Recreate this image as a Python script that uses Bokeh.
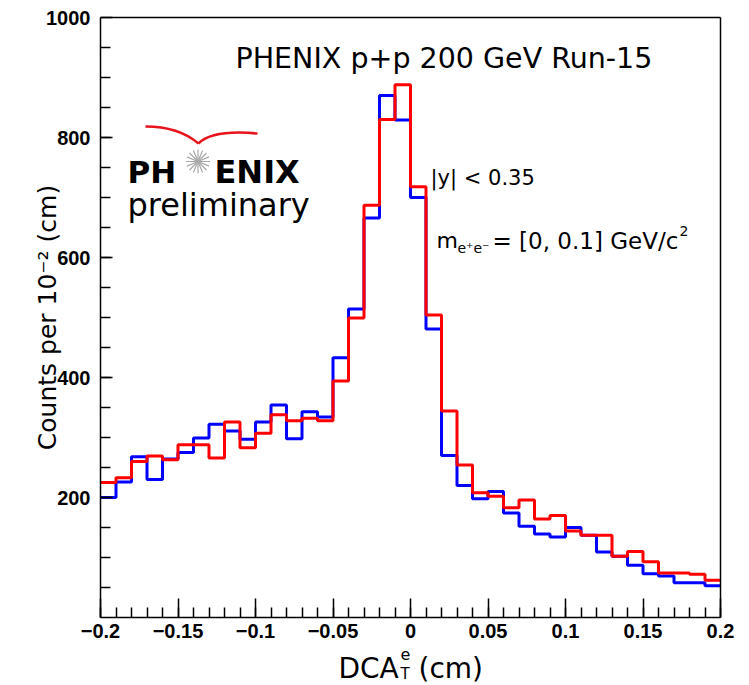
import numpy as np
from bokeh.plotting import figure
from bokeh.models import Range1d, FixedTicker, Label, LinearAxis
from bokeh.embed import file_html
from bokeh.resources import INLINE

# ---------------- data ----------------
bin_edges = [round(-0.2 + 0.01 * i, 2) for i in range(41)]

blue_counts = [200, 226, 268, 230, 264, 275, 299, 322, 311, 297,
               326, 354, 298, 343, 334, 433, 514, 666, 870, 829,
               700, 481, 270, 220, 198, 210, 174, 152, 139, 134,
               150, 137, 109, 102, 87, 73, 69, 58, 58, 53]

red_counts = [225, 233, 260, 269, 263, 288, 288, 266, 326, 283,
              307, 338, 328, 332, 328, 394, 499, 687, 830, 888,
              718, 504, 344, 254, 208, 202, 183, 196, 164, 170,
              144, 137, 137, 102, 110, 93, 74, 74, 72, 62]

x_tick_values = [-0.2, -0.15, -0.1, -0.05, 0.0, 0.05, 0.1, 0.15, 0.2]
x_tick_labels = ["\u22120.2", "\u22120.15", "\u22120.1", "\u22120.05", "0",
                 "0.05", "0.1", "0.15", "0.2"]
y_tick_values = [200, 400, 600, 800, 1000]
y_minor_values = [50 * i for i in range(1, 20)]
X_LO, X_HI = -0.2, 0.2
Y_LO, Y_HI = 0, 1000

# ---------------- layout ----------------
# the frame covers the whole canvas; the axes are drawn at fixed locations
W, H = 749, 685
PL, PR, PT, PB = 100, 720, 17, 617          # pixel box of the plotting area
xs = (X_HI - X_LO) / (PR - PL)               # data per pixel
ys = (Y_HI - Y_LO) / (PB - PT)
x_range = Range1d(X_LO - PL * xs, X_HI + (W - PR) * xs)
y_range = Range1d(Y_LO - (H - PB) * ys, Y_HI + PT * ys)

def dx(px):
    return x_range.start + px * xs

def dy(py):
    return y_range.end - py * ys

p = figure(width=W, height=H, x_range=x_range, y_range=y_range,
           output_backend="svg", toolbar_location=None, title=None,
           min_border=0, min_border_left=0, min_border_right=0,
           min_border_top=0, min_border_bottom=0)

p.xgrid.visible = False
p.ygrid.visible = False
p.outline_line_color = None
p.background_fill_color = "white"
p.border_fill_color = "white"

xa = p.xaxis[0]
ya = p.yaxis[0]
xa.fixed_location = Y_LO
xa.bounds = (X_LO, X_HI)
ya.fixed_location = X_LO
ya.bounds = (Y_LO, Y_HI)

xa.ticker = FixedTicker(ticks=x_tick_values, minor_ticks=bin_edges)
xa.major_label_overrides = dict(zip(x_tick_values, x_tick_labels))
ya.ticker = FixedTicker(ticks=y_tick_values, minor_ticks=y_minor_values)

for ax in (xa, ya):
    ax.axis_line_color = "black"
    ax.axis_line_width = 1.5
    ax.major_tick_line_color = "black"
    ax.minor_tick_line_color = "black"
    ax.major_tick_line_width = 1.5
    ax.minor_tick_line_width = 1.5
    ax.major_tick_out = 0
    ax.minor_tick_out = 0
    ax.major_label_text_font = "Liberation Sans"
    ax.major_label_text_font_style = "bold"
    ax.major_label_text_font_size = "20px"
    ax.major_label_text_color = "black"

xa.major_tick_in = 19
xa.minor_tick_in = 10
xa.major_label_standoff = 6
ya.major_tick_in = 12
ya.minor_tick_in = 10
ya.major_label_standoff = 10

# frame lines at top and right (axes without ticks)
top = LinearAxis(fixed_location=Y_HI, bounds=(X_LO, X_HI),
                 ticker=FixedTicker(ticks=[], minor_ticks=[]),
                 axis_line_color="black", axis_line_width=1.5,
                 major_tick_line_color=None, minor_tick_line_color=None,
                 major_label_text_font_size="0px")
right = LinearAxis(fixed_location=X_HI, bounds=(Y_LO, Y_HI),
                   ticker=FixedTicker(ticks=[], minor_ticks=[]),
                   axis_line_color="black", axis_line_width=1.5,
                   major_tick_line_color=None, minor_tick_line_color=None,
                   major_label_text_font_size="0px")
p.add_layout(top, "above")
p.add_layout(right, "right")

# ---------------- histograms ----------------
p.step(x=bin_edges, y=blue_counts + [blue_counts[-1]], mode="after",
       line_color="#0000ff", line_width=3)
p.step(x=bin_edges, y=red_counts + [red_counts[-1]], mode="after",
       line_color="#ff0000", line_width=3)

# ---------------- texts ----------------
def lab(text, px, py, size, font="DejaVu Sans", style="normal", align="left", angle=0.0):
    p.add_layout(Label(x=px, y=H - py, x_units="screen", y_units="screen",
                       text=text, text_font=font, text_font_style=style,
                       text_font_size=f"{size}px", text_align=align,
                       text_baseline="alphabetic", text_color="black", angle=angle))

lab("PHENIX p+p 200 GeV Run-15", 235, 58, 28.5)
lab("|y| < 0.35", 430, 177, 21)
lab("m", 436, 240, 22)
lab("e\u207ae\u207b", 457, 247, 14)
lab("= [0, 0.1] GeV/c", 492, 240, 23)
lab("2", 679, 230, 14)

# axis titles
lab("Counts per 10\u207b\u00b2 (cm)", 47, 317, 25, align="center", angle=np.pi / 2)
lab("DCA", 338, 668, 28)
lab("e", 400, 653, 16)
lab("T", 400, 673, 15)
lab("(cm)", 418, 668, 28)

# ---------------- PHENIX logo ----------------
p.quadratic(x0=[dx(145)], y0=[dy(126)], x1=[dx(198)], y1=[dy(143)],
            cx=[dx(178)], cy=[dy(126)], line_color="#e8141c", line_width=2.5)
p.quadratic(x0=[dx(198)], y0=[dy(143)], x1=[dx(257)], y1=[dy(133)],
            cx=[dx(212)], cy=[dy(129)], line_color="#e8141c", line_width=2.5)
n_rays = 16
angles = [2 * np.pi * k / n_rays for k in range(n_rays)]
p.ray(x=[dx(197.5)] * n_rays, y=[dy(161)] * n_rays, length=12, length_units="screen",
      angle=angles, line_color="#a8a8a8", line_width=1.2)
lab("PH", 127, 171, 31, style="bold")
lab("ENIX", 214, 171, 32, style="bold")
lab("preliminary", 127, 204, 32)

open("out.html", "w").write(file_html(p, INLINE))
